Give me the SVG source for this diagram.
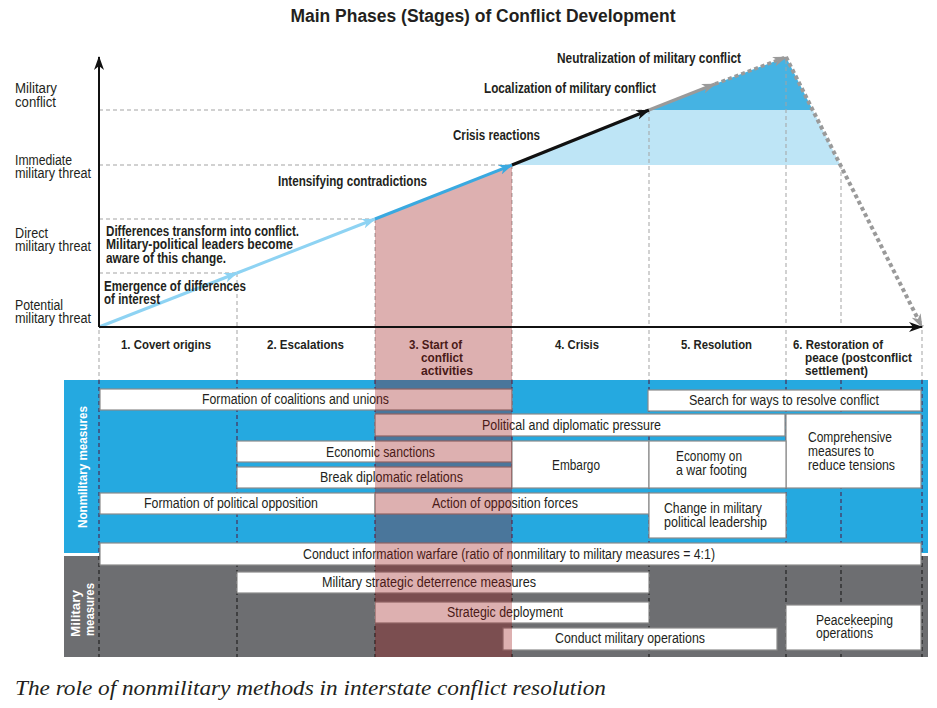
<svg xmlns="http://www.w3.org/2000/svg" width="937" height="708" viewBox="0 0 937 708">
<style>
.t{font-family:"Liberation Sans",Arial,sans-serif;fill:#231f20}
.r{font-size:14px}
.b{font-size:14px;font-weight:bold}
.ph{font-size:13.5px;font-weight:bold}
.c{text-anchor:middle}
.w{fill:#fff;font-weight:bold;font-size:13.5px}
.box{fill:#fff;stroke:#8a8a8a;stroke-width:1.2}
.gd{stroke:#a3a3a3;stroke-width:1;stroke-dasharray:4 3;fill:none}
.bd{stroke:#4b2d55;stroke-width:1.2;stroke-dasharray:4 3;fill:none}
.kd{stroke:#222;stroke-width:1.2;stroke-dasharray:4 3;fill:none}
.cap{font-family:"Liberation Serif","Times New Roman",serif;font-style:italic;font-size:21px;fill:#231f20}
</style>
<defs>
<marker id="mK" viewBox="0 0 14 10" refX="13" refY="5" markerWidth="14" markerHeight="10" orient="auto" markerUnits="userSpaceOnUse"><path d="M0,0 L14,5 L0,10 L4,5 Z" fill="#111"/></marker>
<marker id="mLB" viewBox="0 0 14 10" refX="13" refY="5" markerWidth="14" markerHeight="10" orient="auto" markerUnits="userSpaceOnUse"><path d="M0,0 L14,5 L0,10 L4,5 Z" fill="#8ed3f3"/></marker>
<marker id="mB" viewBox="0 0 14 10" refX="13" refY="5" markerWidth="14" markerHeight="10" orient="auto" markerUnits="userSpaceOnUse"><path d="M0,0 L14,5 L0,10 L4,5 Z" fill="#3aa9e0"/></marker>
<marker id="mG" viewBox="0 0 14 10" refX="13" refY="5" markerWidth="14" markerHeight="10" orient="auto" markerUnits="userSpaceOnUse"><path d="M0,0 L14,5 L0,10 L4,5 Z" fill="#9a9a9a"/></marker>
</defs>
<rect width="937" height="708" fill="#fff"/>
<text class="t" x="483" y="22" text-anchor="middle" font-size="18" font-weight="bold" textLength="385" lengthAdjust="spacingAndGlyphs">Main Phases (Stages) of Conflict Development</text>

<g id="areas">
<polygon points="512,165 649,110 812.7,110 840.4,165" fill="#bee5f6"/>
<polygon points="649,110 715,84 786,57 812.7,110" fill="#45b3e3"/>
</g>

<g id="guides">
<path class="gd" d="M99,110H649M99,165H512M99,219H375M99,273H237"/>
<path class="gd" d="M237,273V327M375,219V327M512,165V327M649,110V327M786,60V327M841,165V327"/>
<path class="gd" d="M99,330V380M237,330V380M375,330V380M512,330V380M649,330V380M786,330V380M922,330V380"/>
</g>

<g id="y-labels">
<text class="t r" x="15" y="93" textLength="42" lengthAdjust="spacingAndGlyphs">Military</text><text class="t r" x="15" y="107" textLength="41" lengthAdjust="spacingAndGlyphs">conflict</text>
<text class="t r" x="15" y="165" textLength="57" lengthAdjust="spacingAndGlyphs">Immediate</text><text class="t r" x="15" y="178" textLength="76" lengthAdjust="spacingAndGlyphs">military threat</text>
<text class="t r" x="15" y="238" textLength="33" lengthAdjust="spacingAndGlyphs">Direct</text><text class="t r" x="15" y="251" textLength="76" lengthAdjust="spacingAndGlyphs">military threat</text>
<text class="t r" x="15" y="310" textLength="48" lengthAdjust="spacingAndGlyphs">Potential</text><text class="t r" x="15" y="323" textLength="76" lengthAdjust="spacingAndGlyphs">military threat</text>
</g>

<g id="phases">
<text class="t ph c" x="166" y="349" textLength="90" lengthAdjust="spacingAndGlyphs">1. Covert origins</text>
<text class="t ph c" x="305.5" y="349" textLength="77" lengthAdjust="spacingAndGlyphs">2. Escalations</text>
<text class="t ph" x="409" y="349" textLength="53" lengthAdjust="spacingAndGlyphs">3. Start of</text><text class="t ph" x="421" y="362" textLength="42" lengthAdjust="spacingAndGlyphs">conflict</text><text class="t ph" x="421" y="375" textLength="52" lengthAdjust="spacingAndGlyphs">activities</text>
<text class="t ph c" x="577" y="349" textLength="44" lengthAdjust="spacingAndGlyphs">4. Crisis</text>
<text class="t ph c" x="716.5" y="349" textLength="71" lengthAdjust="spacingAndGlyphs">5. Resolution</text>
<text class="t ph" x="793" y="349" textLength="90" lengthAdjust="spacingAndGlyphs">6. Restoration of</text><text class="t ph" x="805" y="362" textLength="107" lengthAdjust="spacingAndGlyphs">peace (postconflict</text><text class="t ph" x="805" y="375" textLength="63" lengthAdjust="spacingAndGlyphs">settlement)</text>
</g>

<g id="bands">
<rect x="64" y="380" width="864" height="173" fill="#25a9e0"/>
<rect x="64" y="556" width="864" height="101" fill="#6d6e71"/>
<rect x="99" y="553" width="822" height="3" fill="#6d6e71"/>
<path class="bd" d="M99,380V553M237,380V553M375,380V553M512,380V553M649,380V553M786,380V553M841,380V553M922,380V553"/>
<path class="kd" d="M99,556V657M237,556V657M375,556V657M512,556V657M649,556V657M786,556V657M841,556V657M922,556V657"/>
<text class="t w c" transform="translate(87,467) rotate(-90)" textLength="122" lengthAdjust="spacingAndGlyphs">Nonmilitary measures</text>
<text class="t w" transform="translate(80,637) rotate(-90)" textLength="47" lengthAdjust="spacingAndGlyphs">Military</text>
<text class="t w" transform="translate(94,636) rotate(-90)" textLength="53" lengthAdjust="spacingAndGlyphs">measures</text>
</g>

<g id="n-coalitions"><rect class="box" x="100" y="389" width="412" height="21"/><text class="t r c" x="295.5" y="404" textLength="187" lengthAdjust="spacingAndGlyphs">Formation of coalitions and unions</text></g>
<g id="n-search"><rect class="box" x="648" y="390" width="273" height="21"/><text class="t r c" x="784" y="405" textLength="190" lengthAdjust="spacingAndGlyphs">Search for ways to resolve conflict</text></g>
<g id="n-pressure"><rect class="box" x="375" y="414" width="410" height="22"/><text class="t r c" x="571.5" y="430" textLength="179" lengthAdjust="spacingAndGlyphs">Political and diplomatic pressure</text></g>
<g id="n-comprehensive"><rect class="box" x="786" y="414" width="135" height="74"/><text class="t r" x="808" y="442" textLength="84" lengthAdjust="spacingAndGlyphs">Comprehensive</text><text class="t r" x="808" y="456" textLength="66" lengthAdjust="spacingAndGlyphs">measures to</text><text class="t r" x="808" y="470" textLength="87" lengthAdjust="spacingAndGlyphs">reduce tensions</text></g>
<g id="n-sanctions"><rect class="box" x="237" y="441" width="275" height="21"/><text class="t r c" x="380.5" y="457" textLength="109" lengthAdjust="spacingAndGlyphs">Economic sanctions</text></g>
<g id="n-break"><rect class="box" x="237" y="467" width="275" height="21"/><text class="t r c" x="391.5" y="482" textLength="143" lengthAdjust="spacingAndGlyphs">Break diplomatic relations</text></g>
<g id="n-embargo"><rect class="box" x="512" y="441" width="137" height="47"/><text class="t r c" x="576" y="470" textLength="48" lengthAdjust="spacingAndGlyphs">Embargo</text></g>
<g id="n-economy"><rect class="box" x="649" y="441" width="137" height="47"/><text class="t r" x="676" y="461" textLength="66" lengthAdjust="spacingAndGlyphs">Economy on</text><text class="t r" x="676" y="475" textLength="71" lengthAdjust="spacingAndGlyphs">a war footing</text></g>
<g id="n-opposition"><rect class="box" x="100" y="493" width="275" height="21"/><text class="t r c" x="231" y="508" textLength="174" lengthAdjust="spacingAndGlyphs">Formation of political opposition</text></g>
<g id="n-action"><rect class="box" x="375" y="493" width="274" height="21"/><text class="t r c" x="505" y="508" textLength="146" lengthAdjust="spacingAndGlyphs">Action of opposition forces</text></g>
<g id="n-change"><rect class="box" x="649" y="493" width="137" height="45"/><text class="t r" x="664" y="513" textLength="98" lengthAdjust="spacingAndGlyphs">Change in military</text><text class="t r" x="664" y="527" textLength="103" lengthAdjust="spacingAndGlyphs">political leadership</text></g>
<g id="n-info"><rect class="box" x="100" y="543" width="821" height="22"/><text class="t r c" x="509" y="559" textLength="412" lengthAdjust="spacingAndGlyphs">Conduct information warfare (ratio of nonmilitary to military measures = 4:1)</text></g>
<g id="n-deterrence"><rect class="box" x="237" y="572" width="412" height="21"/><text class="t r c" x="429" y="587" textLength="214" lengthAdjust="spacingAndGlyphs">Military strategic deterrence measures</text></g>
<g id="n-deployment"><rect class="box" x="375" y="602" width="274" height="21"/><text class="t r c" x="505" y="617" textLength="116" lengthAdjust="spacingAndGlyphs">Strategic deployment</text></g>
<g id="n-operations"><rect class="box" x="503" y="628" width="274" height="22"/><text class="t r c" x="630" y="643" textLength="150" lengthAdjust="spacingAndGlyphs">Conduct military operations</text></g>
<g id="n-peacekeeping"><rect class="box" x="786" y="605" width="135" height="45"/><text class="t r" x="816" y="625" textLength="77" lengthAdjust="spacingAndGlyphs">Peacekeeping</text><text class="t r" x="816" y="638" textLength="57" lengthAdjust="spacingAndGlyphs">operations</text></g>

<g id="overlay">
<polygon points="375,219 512,165 512,657 375,657" fill="rgb(152,15,15)" fill-opacity="0.33"/>
</g>

<g id="connectors" fill="none">
<line x1="99" y1="327" x2="237" y2="273" stroke="#8ed3f3" stroke-width="3" marker-end="url(#mLB)"/>
<line x1="237" y1="273" x2="375" y2="219" stroke="#8ed3f3" stroke-width="3" marker-end="url(#mLB)"/>
<line x1="375" y1="219" x2="512" y2="165" stroke="#3aa9e0" stroke-width="3" marker-end="url(#mB)"/>
<line x1="512" y1="165" x2="649" y2="110" stroke="#111" stroke-width="3.2" marker-end="url(#mK)"/>
<line x1="649" y1="110" x2="715" y2="84" stroke="#9a9a9a" stroke-width="3" marker-end="url(#mG)"/>
<line x1="715" y1="84" x2="786" y2="57" stroke="#9a9a9a" stroke-width="3.5" stroke-dasharray="4 3" marker-end="url(#mG)"/>
<line x1="786" y1="57" x2="922" y2="327" stroke="#9a9a9a" stroke-width="4" stroke-dasharray="4 3" marker-end="url(#mG)"/>
<line x1="99" y1="327" x2="99" y2="57" stroke="#111" stroke-width="2" marker-end="url(#mK)"/>
<line x1="99" y1="327" x2="922" y2="327" stroke="#111" stroke-width="2" marker-end="url(#mK)"/>
</g>

<g id="chart-labels">
<text class="t b" x="104" y="291" textLength="142" lengthAdjust="spacingAndGlyphs">Emergence of differences</text><text class="t b" x="104" y="304" textLength="56" lengthAdjust="spacingAndGlyphs">of interest</text>
<text class="t b" x="106" y="236" textLength="193" lengthAdjust="spacingAndGlyphs">Differences transform into conflict.</text><text class="t b" x="106" y="249" textLength="187" lengthAdjust="spacingAndGlyphs">Military-political leaders become</text><text class="t b" x="106" y="263" textLength="120" lengthAdjust="spacingAndGlyphs">aware of this change.</text>
<text class="t b" x="278" y="186" textLength="149" lengthAdjust="spacingAndGlyphs">Intensifying contradictions</text>
<text class="t b" x="453" y="140" textLength="87" lengthAdjust="spacingAndGlyphs">Crisis reactions</text>
<text class="t b" x="484" y="93" textLength="172" lengthAdjust="spacingAndGlyphs">Localization of military conflict</text>
<text class="t b" x="557" y="63" textLength="184" lengthAdjust="spacingAndGlyphs">Neutralization of military conflict</text>
</g>

<text class="cap" x="15" y="695" textLength="591" lengthAdjust="spacingAndGlyphs">The role of nonmilitary methods in interstate conflict resolution</text>
</svg>
